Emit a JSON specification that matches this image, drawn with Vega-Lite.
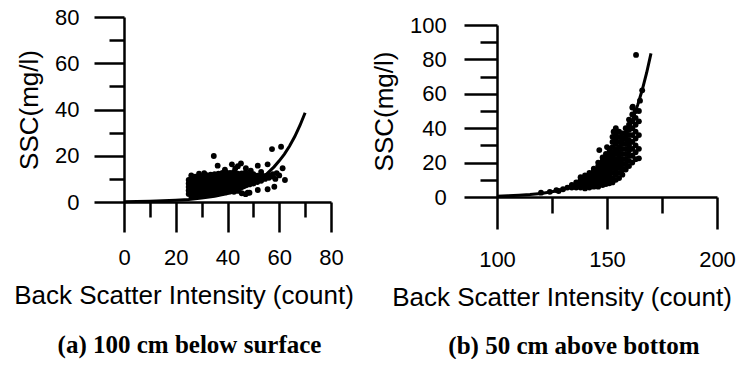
{
  "$schema": "https://vega.github.io/schema/vega-lite/v6.json",
  "background": "white",
  "padding": {"left": 13, "top": 6, "right": 0, "bottom": 0},
  "spacing": 17,
  "config": {
    "view": {"stroke": null},
    "axis": {"domainColor": "black", "tickColor": "black", "labelColor": "black", "titleColor": "black", "labelFont": "Liberation Sans", "titleFont": "Liberation Sans", "labelFontWeight": "normal", "titleFontWeight": "normal", "grid": false, "domainWidth": 2.5, "tickWidth": 2.5, "labelFlush": false, "labelOverlap": false}
  },
  "datasets": {
    "a": [
      {"x":25,"y":3.5},{"x":25,"y":5},{"x":25,"y":6.5},{"x":25,"y":8},{"x":25,"y":9.5},
      {"x":26,"y":2.5},{"x":26,"y":4},{"x":26,"y":5.5},{"x":26,"y":7},{"x":26,"y":8.5},{"x":26,"y":10},{"x":26,"y":11.5},
      {"x":27.5,"y":2.8},{"x":27.5,"y":4.2},{"x":27.5,"y":5.6},{"x":27.5,"y":7},{"x":27.5,"y":8.4},{"x":27.5,"y":9.8},{"x":27.5,"y":11},
      {"x":29,"y":2.6},{"x":29,"y":4},{"x":29,"y":5.4},{"x":29,"y":6.8},{"x":29,"y":8.2},{"x":29,"y":9.6},{"x":29,"y":10.8},
      {"x":30.5,"y":3},{"x":30.5,"y":4.3},{"x":30.5,"y":5.7},{"x":30.5,"y":7.1},{"x":30.5,"y":8.5},{"x":30.5,"y":9.9},{"x":30.5,"y":11.3},
      {"x":32,"y":3.2},{"x":32,"y":4.6},{"x":32,"y":6},{"x":32,"y":7.4},{"x":32,"y":8.8},{"x":32,"y":10.2},{"x":32,"y":11.6},
      {"x":33.5,"y":3.4},{"x":33.5,"y":4.8},{"x":33.5,"y":6.2},{"x":33.5,"y":7.6},{"x":33.5,"y":9},{"x":33.5,"y":10.4},{"x":33.5,"y":11.8},
      {"x":35,"y":3.5},{"x":35,"y":4.9},{"x":35,"y":6.3},{"x":35,"y":7.7},{"x":35,"y":9.1},{"x":35,"y":10.5},{"x":35,"y":12},
      {"x":36.5,"y":3.8},{"x":36.5,"y":5.2},{"x":36.5,"y":6.6},{"x":36.5,"y":8},{"x":36.5,"y":9.4},{"x":36.5,"y":10.8},{"x":36.5,"y":12.3},
      {"x":38,"y":4},{"x":38,"y":5.4},{"x":38,"y":6.8},{"x":38,"y":8.2},{"x":38,"y":9.6},{"x":38,"y":11},{"x":38,"y":12.6},
      {"x":39.5,"y":4.2},{"x":39.5,"y":5.6},{"x":39.5,"y":7},{"x":39.5,"y":8.4},{"x":39.5,"y":9.8},{"x":39.5,"y":11.2},{"x":39.5,"y":12.8},
      {"x":41,"y":4.5},{"x":41,"y":5.9},{"x":41,"y":7.3},{"x":41,"y":8.7},{"x":41,"y":10.1},{"x":41,"y":11.5},{"x":41,"y":12.6},
      {"x":42.5,"y":4.4},{"x":42.5,"y":6.2},{"x":42.5,"y":7.6},{"x":42.5,"y":9},{"x":42.5,"y":10.4},{"x":42.5,"y":11.8},{"x":42.5,"y":13},
      {"x":44,"y":4.8},{"x":44,"y":6.5},{"x":44,"y":8},{"x":44,"y":9.4},{"x":44,"y":10.8},{"x":44,"y":12.2},
      {"x":45.5,"y":3.8},{"x":45.5,"y":6.8},{"x":45.5,"y":8.2},{"x":45.5,"y":9.6},{"x":45.5,"y":11},{"x":45.5,"y":12.4},
      {"x":47,"y":3.4},{"x":47,"y":7.2},{"x":47,"y":8.6},{"x":47,"y":10},{"x":47,"y":11.4},{"x":47,"y":12.8},
      {"x":48.5,"y":4},{"x":48.5,"y":7.6},{"x":48.5,"y":9},{"x":48.5,"y":10.4},{"x":48.5,"y":11.8},
      {"x":50,"y":8},{"x":50,"y":9.4},{"x":50,"y":10.8},{"x":50,"y":12},
      {"x":51.5,"y":8.6},{"x":51.5,"y":10},{"x":51.5,"y":11.4},
      {"x":53,"y":9.2},{"x":53,"y":10.5},{"x":53,"y":11.8},
      {"x":54.5,"y":10},{"x":54.5,"y":11.2},
      {"x":56,"y":10.5},{"x":56,"y":11.5},
      {"x":57.5,"y":11},{"x":57.5,"y":12},
      {"x":34.7,"y":19.9},{"x":36.2,"y":15.7},{"x":41.7,"y":16.3},{"x":45.2,"y":16.7},{"x":44,"y":15.5},{"x":47.1,"y":14.6},
      {"x":39,"y":14},{"x":43,"y":14.5},{"x":51.7,"y":15.7},{"x":55.5,"y":16.3},{"x":57.2,"y":22.9},{"x":60.7,"y":23.9},
      {"x":61.3,"y":14.6},{"x":62.2,"y":9.5},{"x":58.1,"y":6.6},{"x":55.5,"y":5.5},{"x":51.7,"y":5.2},{"x":47.8,"y":4},
      {"x":49,"y":13.5},{"x":53,"y":13},{"x":59,"y":12.5},{"x":60,"y":11.5},{"x":58.5,"y":10},{"x":29,"y":12.2},{"x":31,"y":12.5}
    ],
    "fa": [
      {"x":0,"y":0.16},{"x":5,"y":0.24},{"x":10,"y":0.35},{"x":15,"y":0.52},{"x":20,"y":0.77},{"x":25,"y":1.13},
      {"x":30,"y":1.68},{"x":35,"y":2.49},{"x":40,"y":3.69},{"x":45,"y":5.47},{"x":50,"y":8.1},{"x":55,"y":12},
      {"x":58,"y":15.2},{"x":60,"y":17.8},{"x":62,"y":20.7},{"x":64,"y":24.2},{"x":66,"y":28.3},{"x":68,"y":33.1},{"x":70,"y":38.6}
    ],
    "b": [
      {"x":134,"y":5.5},{"x":134,"y":7},
      {"x":136,"y":5.5},{"x":136,"y":7},{"x":136,"y":8.5},
      {"x":138,"y":5.5},{"x":138,"y":7},{"x":138,"y":8.5},{"x":138,"y":10},{"x":138,"y":11.5},
      {"x":140,"y":5},{"x":140,"y":6.5},{"x":140,"y":8},{"x":140,"y":9.5},{"x":140,"y":11},{"x":140,"y":12.5},
      {"x":142,"y":5.5},{"x":142,"y":7},{"x":142,"y":8.5},{"x":142,"y":10},{"x":142,"y":11.5},{"x":142,"y":13},{"x":142,"y":14},
      {"x":144,"y":6},{"x":144,"y":7.5},{"x":144,"y":9},{"x":144,"y":10.5},{"x":144,"y":12},{"x":144,"y":13.5},{"x":144,"y":15},{"x":144,"y":16.5},
      {"x":146,"y":6},{"x":146,"y":8},{"x":146,"y":10},{"x":146,"y":12},{"x":146,"y":14},{"x":146,"y":16},{"x":146,"y":18},{"x":146,"y":20},
      {"x":148,"y":7},{"x":148,"y":9},{"x":148,"y":11},{"x":148,"y":13},{"x":148,"y":15},{"x":148,"y":17},{"x":148,"y":19},{"x":148,"y":21},{"x":148,"y":23},
      {"x":149.5,"y":7.5},{"x":149.5,"y":10},{"x":149.5,"y":12.5},{"x":149.5,"y":15},{"x":149.5,"y":17.5},{"x":149.5,"y":20},{"x":149.5,"y":22.5},{"x":149.5,"y":25},
      {"x":151,"y":8},{"x":151,"y":10.5},{"x":151,"y":13},{"x":151,"y":15.5},{"x":151,"y":18},{"x":151,"y":20.5},{"x":151,"y":23},{"x":151,"y":25.5},{"x":151,"y":28},
      {"x":152.5,"y":8.5},{"x":152.5,"y":11},{"x":152.5,"y":14},{"x":152.5,"y":17},{"x":152.5,"y":20},{"x":152.5,"y":23},{"x":152.5,"y":26},{"x":152.5,"y":29},{"x":152.5,"y":32},{"x":152.5,"y":35},
      {"x":154,"y":10},{"x":154,"y":13},{"x":154,"y":16},{"x":154,"y":19},{"x":154,"y":22},{"x":154,"y":25},{"x":154,"y":28},{"x":154,"y":31},{"x":154,"y":34},{"x":154,"y":37},{"x":154,"y":40},
      {"x":155.5,"y":11},{"x":155.5,"y":14},{"x":155.5,"y":17},{"x":155.5,"y":20},{"x":155.5,"y":23},{"x":155.5,"y":26},{"x":155.5,"y":29},{"x":155.5,"y":32},{"x":155.5,"y":35},{"x":155.5,"y":38},
      {"x":157,"y":13},{"x":157,"y":16},{"x":157,"y":19},{"x":157,"y":22},{"x":157,"y":25},{"x":157,"y":28},{"x":157,"y":31},{"x":157,"y":34},{"x":157,"y":37},
      {"x":158.5,"y":16},{"x":158.5,"y":19},{"x":158.5,"y":22},{"x":158.5,"y":25},{"x":158.5,"y":28},{"x":158.5,"y":31},{"x":158.5,"y":34},{"x":158.5,"y":37},{"x":158.5,"y":40},
      {"x":160,"y":18},{"x":160,"y":21},{"x":160,"y":24},{"x":160,"y":27},{"x":160,"y":30},{"x":160,"y":33},{"x":160,"y":36},{"x":160,"y":39},{"x":160,"y":42},{"x":160,"y":45},
      {"x":161.5,"y":20},{"x":161.5,"y":24},{"x":161.5,"y":28},{"x":161.5,"y":32},{"x":161.5,"y":36},{"x":161.5,"y":40},{"x":161.5,"y":44},{"x":161.5,"y":48},{"x":161.5,"y":52},
      {"x":163,"y":22},{"x":163,"y":26},{"x":163,"y":30},{"x":163,"y":34},{"x":163,"y":38},{"x":163,"y":42},{"x":163,"y":46},{"x":163,"y":50},
      {"x":164.5,"y":22.5},{"x":164.5,"y":28},{"x":164.5,"y":36},{"x":164.5,"y":44},{"x":164.5,"y":50},
      {"x":146.5,"y":27.3},{"x":163.2,"y":82.6},{"x":150,"y":29},{"x":153,"y":38},{"x":161.7,"y":52.5},{"x":165,"y":56},{"x":166,"y":62},
      {"x":120,"y":2.5},{"x":124,"y":3},{"x":127,"y":4},{"x":130,"y":4.5},{"x":132,"y":5.5},{"x":128,"y":3.5}
    ],
    "fb": [
      {"x":100,"y":0.48},{"x":105,"y":0.69},{"x":110,"y":1},{"x":115,"y":1.45},{"x":120,"y":2.1},{"x":125,"y":3.03},
      {"x":130,"y":4.38},{"x":135,"y":6.33},{"x":140,"y":9.15},{"x":145,"y":13.2},{"x":150,"y":19.1},{"x":155,"y":27.6},
      {"x":158,"y":34.5},{"x":160,"y":40},{"x":162,"y":46.3},{"x":164,"y":53.7},{"x":166,"y":62.2},{"x":168,"y":72.1},{"x":170,"y":83.5}
    ]
  },
  "hconcat": [
    {
      "width": 207,
      "height": 185,
      "title": {"text": "(a) 100 cm below surface", "orient": "bottom", "frame": "group", "anchor": "middle", "dx": -38, "offset": 24, "font": "Liberation Serif", "fontSize": 25, "fontWeight": "bold", "color": "black"},
      "resolve": {"axis": {"x": "independent", "y": "independent"}},
      "layer": [
        {
          "data": {"name": "a"},
          "mark": {"type": "circle", "size": 34, "opacity": 1, "color": "black"},
          "encoding": {
            "x": {"field": "x", "type": "quantitative", "scale": {"domain": [0, 80], "nice": false},
              "axis": {"orient": "bottom", "values": [0,20,40,60,80], "tickSize": 30, "labelFontSize": 22, "labelPadding": 15.5, "title": "Back Scatter Intensity (count)", "titleFontSize": 26, "titlePadding": 14, "titleX": 59.5, "titleAlign": "center"}},
            "y": {"field": "y", "type": "quantitative", "scale": {"domain": [0, 80], "nice": false},
              "axis": {"orient": "left", "values": [0,20,40,60,80], "tickSize": 30, "labelFontSize": 22, "labelPadding": 15, "title": "SSC(mg/l)", "titleFontSize": 26, "titlePadding": 12}}
          }
        },
        {
          "data": {"name": "fa"},
          "mark": {"type": "line", "color": "black", "strokeWidth": 3},
          "encoding": {
            "x": {"field": "x", "type": "quantitative",
              "axis": {"orient": "bottom", "values": [10,30,50,70], "tickSize": 15, "labels": false, "domain": false, "title": null}},
            "y": {"field": "y", "type": "quantitative",
              "axis": {"orient": "left", "values": [10,30,50,70], "tickSize": 15, "labels": false, "domain": false, "title": null}}
          }
        }
      ]
    },
    {
      "width": 220,
      "height": 180,
      "title": {"text": "(b) 50 cm above bottom", "orient": "bottom", "frame": "group", "anchor": "middle", "dx": -33, "offset": 24, "font": "Liberation Serif", "fontSize": 25, "fontWeight": "bold", "color": "black"},
      "resolve": {"axis": {"x": "independent", "y": "independent"}},
      "layer": [
        {
          "data": {"name": "b"},
          "mark": {"type": "circle", "size": 34, "opacity": 1, "color": "black"},
          "encoding": {
            "x": {"field": "x", "type": "quantitative", "scale": {"domain": [100, 200], "nice": false},
              "axis": {"orient": "bottom", "values": [100,150,200], "tickSize": 32, "labelFontSize": 22, "labelPadding": 20, "title": "Back Scatter Intensity (count)", "titleFontSize": 26, "titlePadding": 14, "titleX": 64.5, "titleAlign": "center"}},
            "y": {"field": "y", "type": "quantitative", "scale": {"domain": [0, 100], "nice": false, "range": [180, 8]},
              "axis": {"orient": "left", "values": [0,20,40,60,80,100], "tickSize": 33, "labelFontSize": 22, "labelPadding": 17.7, "title": "SSC(mg/l)", "titleFontSize": 26, "titlePadding": 12.3}}
          }
        },
        {
          "data": {"name": "fb"},
          "mark": {"type": "line", "color": "black", "strokeWidth": 3},
          "encoding": {
            "x": {"field": "x", "type": "quantitative",
              "axis": {"orient": "bottom", "values": [125,175], "tickSize": 16, "labels": false, "domain": false, "title": null}},
            "y": {"field": "y", "type": "quantitative",
              "axis": {"orient": "left", "values": [10,30,50,70,90], "tickSize": 17, "labels": false, "domain": false, "title": null}}
          }
        }
      ]
    }
  ]
}
